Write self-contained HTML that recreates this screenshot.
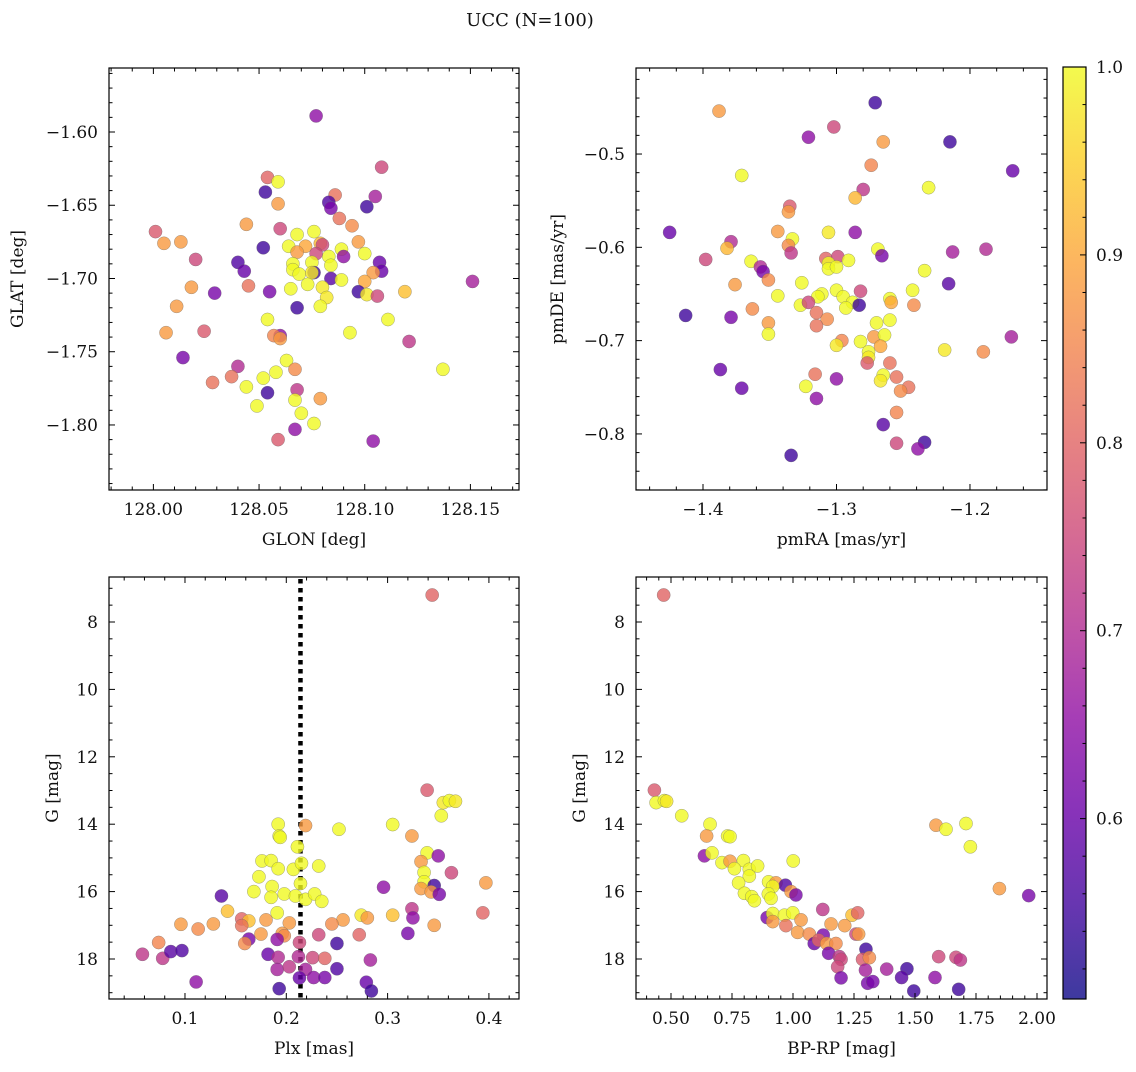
<!DOCTYPE html>
<html><head><meta charset="utf-8"><style>
body{margin:0;background:#fff;}
svg text{font-family:"DejaVu Serif","Liberation Serif",serif;fill:#111;}
</style></head><body>
<svg id="fig" width="1136" height="1067" xmlns="http://www.w3.org/2000/svg">
<defs><linearGradient id="plasma" x1="0" y1="1" x2="0" y2="0">
<stop offset="0" stop-color="#0d0887"/><stop offset="0.1" stop-color="#41049d"/><stop offset="0.2" stop-color="#6a00a8"/><stop offset="0.3" stop-color="#8f0da4"/><stop offset="0.4" stop-color="#b12a90"/><stop offset="0.5" stop-color="#cc4778"/><stop offset="0.6" stop-color="#e16462"/><stop offset="0.7" stop-color="#f2844b"/><stop offset="0.8" stop-color="#fca636"/><stop offset="0.9" stop-color="#fcce25"/><stop offset="1" stop-color="#f0f921"/>
</linearGradient></defs>
<text x="530" y="26" text-anchor="middle" font-size="18">UCC (N=100)</text>
</svg>
<script>
// Panel 1: GLON vs GLAT
const glon=[128.077,128.108,128.054,128.059,128.053,128.105,128.086,128.083,128.084,128.101,128.059,128.088,128.094,128.044,128.060,128.001,128.005,128.013,128.068,128.076,128.064,128.072,128.079,128.080,128.097,128.052,128.068,128.089,128.090,128.100,128.020,128.083,128.077,128.040,128.043,128.066,128.075,128.084,128.107,128.108,128.104,128.066,128.069,128.076,128.075,128.084,128.089,128.073,128.100,128.151,128.045,128.018,128.029,128.055,128.065,128.080,128.097,128.101,128.106,128.119,128.082,128.011,128.068,128.079,128.111,128.054,128.006,128.024,128.093,128.060,128.057,128.060,128.121,128.014,128.063,128.137,128.040,128.058,128.067,128.028,128.037,128.044,128.052,128.054,128.068,128.067,128.079,128.049,128.070,128.076,128.067,128.059,128.104];
const glat=[-1.589,-1.624,-1.631,-1.634,-1.641,-1.644,-1.643,-1.648,-1.652,-1.651,-1.649,-1.659,-1.664,-1.663,-1.666,-1.668,-1.676,-1.675,-1.670,-1.668,-1.678,-1.678,-1.676,-1.677,-1.675,-1.679,-1.682,-1.680,-1.685,-1.683,-1.687,-1.685,-1.683,-1.689,-1.695,-1.690,-1.689,-1.691,-1.689,-1.695,-1.696,-1.694,-1.697,-1.696,-1.696,-1.700,-1.701,-1.704,-1.702,-1.702,-1.705,-1.706,-1.710,-1.709,-1.707,-1.706,-1.709,-1.711,-1.712,-1.709,-1.713,-1.719,-1.720,-1.719,-1.728,-1.728,-1.737,-1.736,-1.737,-1.739,-1.739,-1.741,-1.743,-1.754,-1.756,-1.762,-1.760,-1.764,-1.762,-1.771,-1.767,-1.774,-1.768,-1.778,-1.776,-1.783,-1.782,-1.787,-1.792,-1.799,-1.803,-1.810,-1.811];
const prob1=[.65,.75,.80,1.0,.55,.68,.82,.57,.62,.55,.88,.82,.86,.88,.75,.78,.88,.88,1.0,1.0,1.0,.90,.92,.75,.88,.55,.88,1.0,.65,1.0,.75,1.0,.75,.57,.60,1.0,1.0,1.0,.60,.60,.88,1.0,1.0,.55,.98,.58,1.0,1.0,.90,.68,.82,.88,.62,.62,1.0,.98,.55,.98,.75,.93,.98,.88,.55,1.0,1.0,1.0,.88,.78,1.0,.65,.85,.88,.72,.62,1.0,1.0,.70,1.0,.86,.82,.82,1.0,1.0,.55,.72,1.0,.88,1.0,1.0,1.0,.65,.78,.65];
// Panel 2: pmRA vs pmDE
const pmra=[-1.388,-1.271,-1.302,-1.321,-1.265,-1.215,-1.168,-1.371,-1.274,-1.231,-1.280,-1.286,-1.335,-1.336,-1.425,-1.344,-1.306,-1.286,-1.333,-1.336,-1.379,-1.382,-1.269,-1.266,-1.213,-1.188,-1.398,-1.334,-1.364,-1.357,-1.355,-1.308,-1.299,-1.306,-1.306,-1.300,-1.291,-1.234,-1.351,-1.376,-1.216,-1.326,-1.243,-1.300,-1.282,-1.344,-1.311,-1.314,-1.295,-1.260,-1.259,-1.288,-1.283,-1.242,-1.327,-1.321,-1.293,-1.413,-1.379,-1.363,-1.315,-1.307,-1.351,-1.315,-1.270,-1.260,-1.351,-1.272,-1.264,-1.169,-1.296,-1.300,-1.282,-1.267,-1.219,-1.190,-1.276,-1.276,-1.277,-1.260,-1.387,-1.371,-1.316,-1.300,-1.265,-1.267,-1.255,-1.323,-1.246,-1.252,-1.315,-1.255,-1.265,-1.255,-1.234,-1.239,-1.334];
const pmde=[-0.454,-0.445,-0.471,-0.482,-0.487,-0.487,-0.518,-0.523,-0.512,-0.536,-0.538,-0.547,-0.556,-0.562,-0.584,-0.583,-0.584,-0.584,-0.591,-0.598,-0.594,-0.601,-0.602,-0.609,-0.605,-0.602,-0.613,-0.606,-0.615,-0.621,-0.626,-0.612,-0.610,-0.617,-0.623,-0.621,-0.614,-0.625,-0.635,-0.640,-0.639,-0.638,-0.646,-0.646,-0.647,-0.652,-0.650,-0.653,-0.653,-0.655,-0.659,-0.659,-0.662,-0.662,-0.662,-0.659,-0.665,-0.673,-0.675,-0.666,-0.670,-0.677,-0.681,-0.684,-0.681,-0.678,-0.693,-0.696,-0.694,-0.696,-0.700,-0.705,-0.701,-0.706,-0.710,-0.712,-0.712,-0.718,-0.724,-0.724,-0.731,-0.751,-0.736,-0.741,-0.737,-0.743,-0.739,-0.749,-0.750,-0.754,-0.762,-0.777,-0.790,-0.810,-0.809,-0.816,-0.823];
const prob2=[.88,.55,.75,.65,.88,.55,.60,1.0,.85,1.0,.72,.92,.78,.88,.60,.88,.98,.65,1.0,.86,.70,.92,1.0,.62,.68,.70,.75,.72,1.0,.70,.62,.80,.75,1.0,1.0,1.0,1.0,1.0,.86,.88,.58,1.0,1.0,1.0,.75,1.0,1.0,1.0,1.0,1.0,.90,1.0,.55,.86,1.0,.75,1.0,.55,.62,.86,.82,.86,.88,.82,1.0,1.0,1.0,.88,1.0,.68,.85,.98,1.0,.90,.98,.86,1.0,.98,.78,.82,.60,.60,.82,.65,1.0,.98,.82,1.0,.82,.86,.65,.85,.58,.75,.55,.65,.55];
// Panel 3: Plx vs G
const plx=[0.344,0.339,0.355,0.361,0.367,0.353,0.192,0.219,0.252,0.305,0.324,0.193,0.194,0.211,0.339,0.350,0.333,0.176,0.185,0.192,0.207,0.215,0.232,0.363,0.336,0.173,0.336,0.346,0.397,0.296,0.186,0.214,0.333,0.343,0.351,0.168,0.136,0.185,0.198,0.209,0.219,0.228,0.235,0.142,0.191,0.324,0.325,0.274,0.280,0.305,0.394,0.156,0.163,0.180,0.256,0.096,0.113,0.128,0.156,0.203,0.245,0.346,0.175,0.196,0.198,0.232,0.272,0.320,0.074,0.163,0.159,0.191,0.213,0.250,0.058,0.078,0.086,0.097,0.182,0.192,0.212,0.226,0.238,0.283,0.191,0.203,0.219,0.250,0.213,0.227,0.238,0.279,0.111,0.193,0.284];
const gmag3=[7.2,12.99,13.36,13.30,13.32,13.75,14.00,14.04,14.15,14.01,14.35,14.35,14.39,14.67,14.85,14.94,15.11,15.09,15.08,15.32,15.34,15.16,15.24,15.44,15.43,15.56,15.71,15.82,15.74,15.87,15.85,15.76,15.91,16.01,16.08,16.00,16.13,16.17,16.07,16.13,16.23,16.07,16.29,16.58,16.63,16.51,16.78,16.70,16.78,16.70,16.63,16.81,16.87,16.84,16.84,16.97,17.11,16.96,17.01,16.93,16.96,17.00,17.26,17.24,17.31,17.28,17.28,17.24,17.51,17.41,17.54,17.42,17.51,17.54,17.86,17.98,17.78,17.75,17.86,17.95,17.93,17.96,17.98,18.03,18.31,18.23,18.31,18.29,18.56,18.55,18.55,18.69,18.68,18.88,18.95];
const prob3=[.80,.78,.98,1.0,.98,1.0,1.0,.88,1.0,1.0,.88,1.0,1.0,1.0,1.0,.65,.88,1.0,1.0,1.0,1.0,1.0,1.0,.75,1.0,1.0,1.0,.55,.88,.65,1.0,1.0,.88,.88,.62,1.0,.58,1.0,1.0,1.0,1.0,1.0,1.0,.93,1.0,.72,.65,.98,.88,.93,.80,.80,.93,.88,.88,.88,.86,.88,.82,.88,.86,.88,.88,.88,.86,.75,.80,.62,.85,.62,.86,.65,.75,.55,.72,.72,.58,.57,.60,.70,.70,.75,.80,.68,.68,.72,.68,.57,.60,.65,.62,.60,.65,.55,.55];
// Panel 4: BP-RP vs G
const bprp=[0.47,0.432,0.439,0.473,0.482,0.544,0.660,0.646,0.732,0.742,0.637,0.668,1.001,0.709,0.742,0.797,0.760,0.821,0.855,0.821,0.777,0.900,0.930,0.969,0.917,0.992,1.012,0.801,0.831,0.842,0.899,0.910,1.122,1.586,1.627,1.709,1.727,1.846,1.966,0.894,0.917,0.965,0.999,1.242,1.265,0.917,0.971,1.033,1.156,1.212,1.019,1.067,1.124,1.258,1.269,1.087,1.105,1.138,1.176,1.146,1.190,1.197,1.183,1.299,1.285,1.313,1.297,1.384,1.467,1.445,1.197,1.306,1.327,1.495,1.582,1.597,1.668,1.686,1.679];
const gmag4=[7.2,12.99,13.36,13.30,13.32,13.75,14.00,14.35,14.35,14.37,14.94,14.85,15.09,15.14,15.10,15.08,15.32,15.34,15.24,15.54,15.74,15.71,15.74,15.81,15.85,16.00,16.10,16.05,16.15,16.27,16.07,16.20,16.53,14.03,14.15,13.98,14.67,15.91,16.12,16.77,16.65,16.70,16.63,16.70,16.63,16.89,17.01,16.84,16.96,17.01,17.21,17.26,17.29,17.26,17.26,17.54,17.44,17.54,17.54,17.83,17.93,18.01,18.23,17.71,18.01,17.96,18.33,18.30,18.29,18.55,18.56,18.72,18.67,18.95,18.55,17.93,17.95,18.03,18.90];
const prob4=[.80,.78,1.0,1.0,.98,1.0,1.0,.88,1.0,1.0,.65,1.0,1.0,1.0,.88,1.0,1.0,1.0,1.0,1.0,1.0,1.0,.88,.57,1.0,.88,.62,1.0,1.0,1.0,1.0,1.0,.72,.88,1.0,1.0,1.0,.88,.62,.62,1.0,1.0,1.0,.93,.80,.88,.82,.88,.88,.88,.88,.86,.62,.75,.88,.60,.80,.88,.86,.62,.72,.75,.75,.55,.78,.86,.68,.68,.55,.58,.62,.62,.62,.55,.65,.75,.75,.72,.55];
const cbTicks=[0.6,0.7,0.8,0.9,1.0];

const VMIN=0.504,VMAX=1.0;
const stops=[[13,8,135],[65,4,157],[106,0,168],[143,13,164],[177,42,144],[204,71,120],[225,100,98],[242,132,75],[252,166,54],[252,206,37],[240,249,33]];
function cmap(v){let t=Math.max(0,Math.min(1,(v-VMIN)/(VMAX-VMIN)))*10;let i=Math.min(9,Math.floor(t)),f=t-i;
const c=stops[i].map((a,k)=>Math.round(a+(stops[i+1][k]-a)*f));return `rgb(${c[0]},${c[1]},${c[2]})`;}
const svg=document.getElementById('fig');const NS='http://www.w3.org/2000/svg';
function mk(tag,attrs,parent){const e=document.createElementNS(NS,tag);for(const k in attrs)e.setAttribute(k,attrs[k]);(parent||svg).appendChild(e);return e;}
function fmt(v,d){return v.toFixed(d).replace('-','\u2212');}
const FS=17;

function panel(o){
  const g=mk('g',{});
  
  
  const sx=v=>o.x0+(v-o.xmin)/(o.xmax-o.xmin)*(o.x1-o.x0);
  const sy=o.yinv?(v=>o.y0+(v-o.ymin)/(o.ymax-o.ymin)*(o.y1-o.y0)):(v=>o.y1-(v-o.ymin)/(o.ymax-o.ymin)*(o.y1-o.y0));
  if(o.vline!==undefined){const l=mk('line',{x1:sx(o.vline),x2:sx(o.vline),y1:o.y0+2,y2:o.y1,stroke:'#000','stroke-width':4.5,'stroke-dasharray':'4.5,4.5'},g);
    
    }
  for(let i=0;i<o.xs.length;i++){
    const c=mk('circle',{cx:sx(o.xs[i]),cy:sy(o.ys[i]),r:6.6,fill:cmap(o.ps[i]),'fill-opacity':0.8,stroke:'#666','stroke-opacity':0.6,'stroke-width':0.5},g);
    
    
  }
  const fr=mk('rect',{x:o.x0,y:o.y0,width:o.x1-o.x0,height:o.y1-o.y0,fill:'none',stroke:'#000','stroke-width':1.2},g);
  
  
  const eps=1e-9;
  for(let v=Math.ceil(o.xmin/o.xminor-eps)*o.xminor;v<=o.xmax+eps;v+=o.xminor){
    const major=Math.abs(v/o.xmajor-Math.round(v/o.xmajor))<1e-4;const L=major?6:3.5;const x=sx(v);
    mk('line',{x1:x,x2:x,y1:o.y1,y2:o.y1-L,stroke:'#000','stroke-width':1},g);
    mk('line',{x1:x,x2:x,y1:o.y0,y2:o.y0+L,stroke:'#000','stroke-width':1},g);
  }
  o.xt.forEach(v=>{const t=mk('text',{x:sx(v),y:o.y1+25,'text-anchor':'middle','font-size':FS},g);t.textContent=fmt(v,o.xd);
    
    });
  for(let v=Math.ceil(o.ymin/o.yminor-eps)*o.yminor;v<=o.ymax+eps;v+=o.yminor){
    const major=Math.abs(v/o.ymajor-Math.round(v/o.ymajor))<1e-4;const L=major?6:3.5;const y=sy(v);
    mk('line',{x1:o.x0,x2:o.x0+L,y1:y,y2:y,stroke:'#000','stroke-width':1},g);
    mk('line',{x1:o.x1,x2:o.x1-L,y1:y,y2:y,stroke:'#000','stroke-width':1},g);
  }
  o.yt.forEach(v=>{const t=mk('text',{x:o.x0-11,y:sy(v)+6,'text-anchor':'end','font-size':FS},g);t.textContent=fmt(v,o.yd);
    
    });
  const xl=mk('text',{x:(o.x0+o.x1)/2,y:o.y1+55,'text-anchor':'middle','font-size':FS},g);xl.textContent=o.xlabel;
  
  
  const yc=(o.y0+o.y1)/2;const yl=mk('text',{x:o.ylx,y:yc,'text-anchor':'middle','font-size':FS,transform:`rotate(-90 ${o.ylx} ${yc})`},g);yl.textContent=o.ylabel;
  
  
}
panel({name:'glon-glat-panel',x0:109,x1:519,y0:68,y1:490,xmin:127.979,xmax:128.173,ymin:-1.8444,ymax:-1.5563,xmajor:0.05,xminor:0.01,ymajor:0.05,yminor:0.01,
 xt:[128.00,128.05,128.10,128.15],xd:2,yt:[-1.60,-1.65,-1.70,-1.75,-1.80],yd:2,xs:glon,ys:glat,ps:prob1,xlabel:'GLON [deg]',ylabel:'GLAT [deg]',ylx:23});
panel({name:'pmra-pmde-panel',x0:636,x1:1047,y0:68,y1:490,xmin:-1.4502,xmax:-1.1423,ymin:-0.8601,ymax:-0.4078,xmajor:0.1,xminor:0.02,ymajor:0.1,yminor:0.02,
 xt:[-1.4,-1.3,-1.2],xd:1,yt:[-0.5,-0.6,-0.7,-0.8],yd:1,xs:pmra,ys:pmde,ps:prob2,xlabel:'pmRA [mas/yr]',ylabel:'pmDE [mas/yr]',ylx:563});
panel({name:'plx-g-panel',x0:109,x1:519,y0:577,y1:999,xmin:0.025,xmax:0.4297,ymin:6.665,ymax:19.187,yinv:true,xmajor:0.1,xminor:0.02,ymajor:2,yminor:0.5,
 xt:[0.1,0.2,0.3,0.4],xd:1,yt:[8,10,12,14,16,18],yd:0,xs:plx,ys:gmag3,ps:prob3,xlabel:'Plx [mas]',ylabel:'G [mag]',ylx:58,vline:0.214});
panel({name:'bprp-g-panel',x0:636,x1:1047,y0:577,y1:999,xmin:0.3566,xmax:2.041,ymin:6.665,ymax:19.187,yinv:true,xmajor:0.25,xminor:0.05,ymajor:2,yminor:0.5,
 xt:[0.5,0.75,1.0,1.25,1.5,1.75,2.0],xd:2,yt:[8,10,12,14,16,18],yd:0,xs:bprp,ys:gmag4,ps:prob4,xlabel:'BP-RP [mag]',ylabel:'G [mag]',ylx:585});

const cb=mk('g',{});


const cx0=1063,cx1=1086,cy0=67,cy1=999;
mk('rect',{x:cx0,y:cy0,width:cx1-cx0,height:cy1-cy0,fill:'url(#plasma)','fill-opacity':0.8},cb);
mk('rect',{x:cx0,y:cy0,width:cx1-cx0,height:cy1-cy0,fill:'none',stroke:'#000','stroke-width':1.2},cb);
const cby=v=>cy1-(v-VMIN)/(VMAX-VMIN)*(cy1-cy0);
for(let v=0.52;v<=1.0001;v+=0.02){const y=cby(v);const major=Math.abs(v*10-Math.round(v*10))<1e-4;
 mk('line',{x1:cx1,x2:cx1-(major?6:3.5),y1:y,y2:y,stroke:'#000','stroke-width':1},cb);}
cbTicks.forEach(v=>{const t=mk('text',{x:cx1+10,y:cby(v)+6,'font-size':FS},cb);t.textContent=v.toFixed(1);
 
 });
</script>
</body></html>
